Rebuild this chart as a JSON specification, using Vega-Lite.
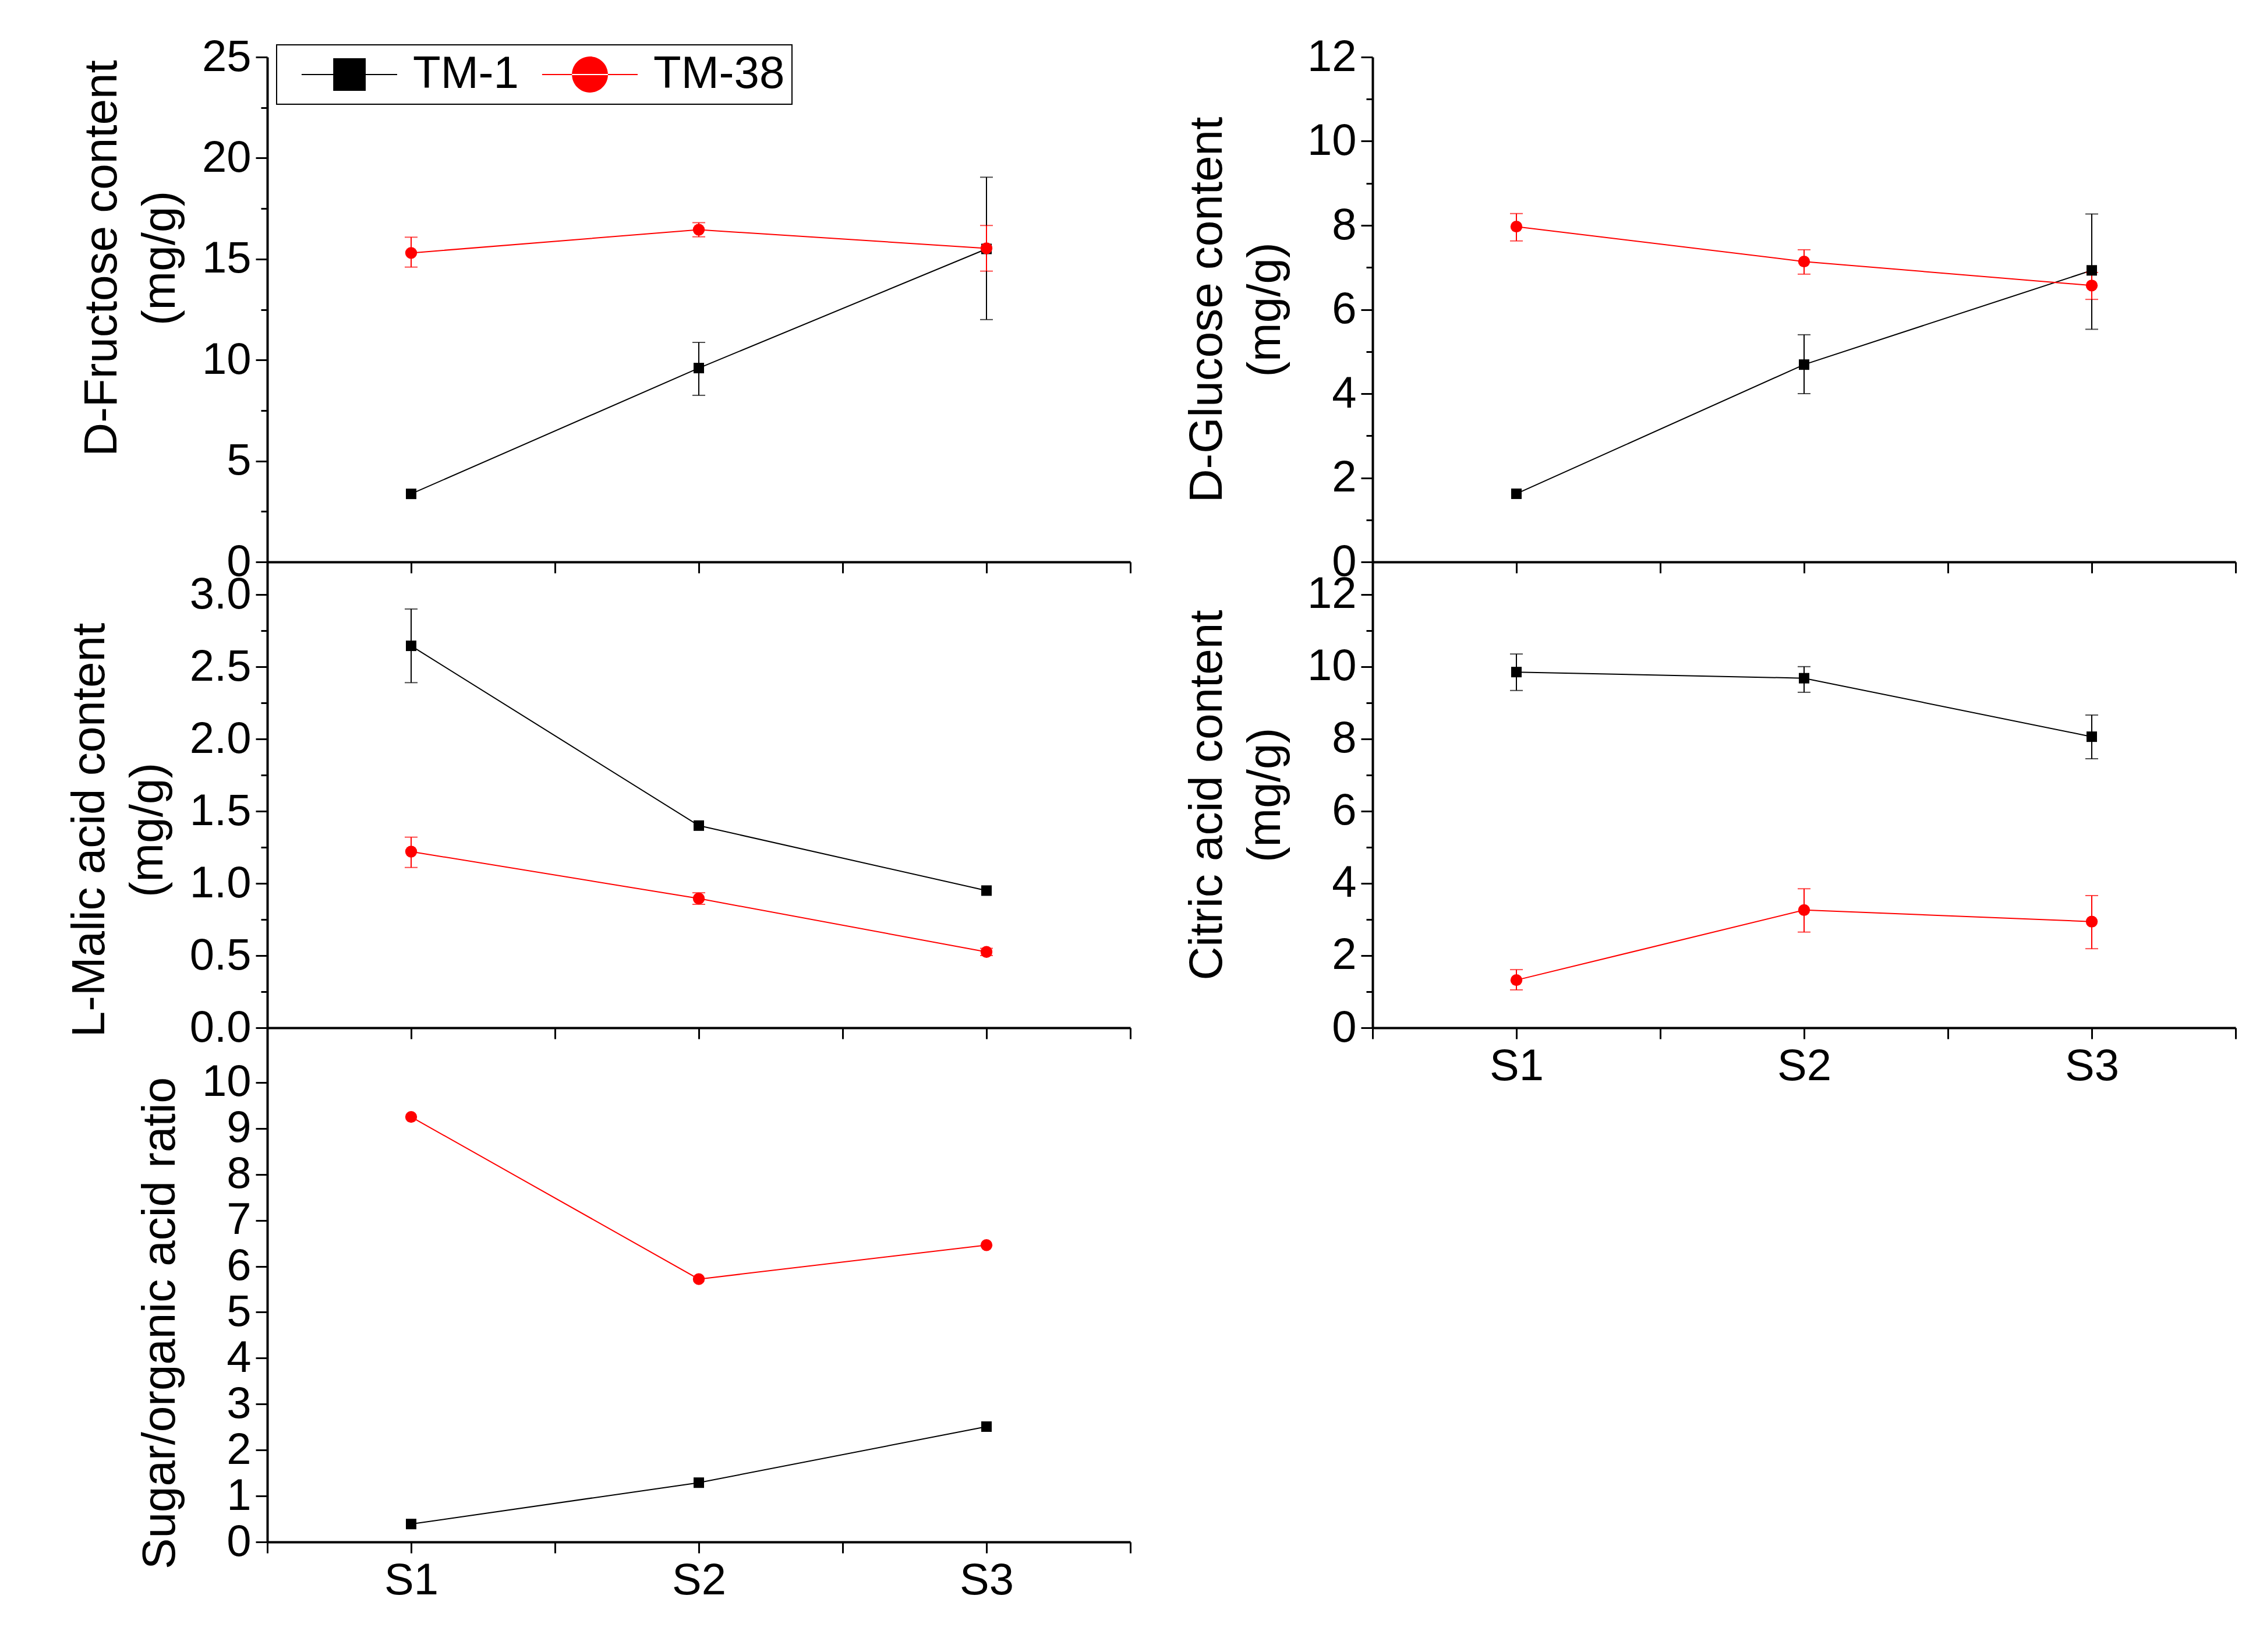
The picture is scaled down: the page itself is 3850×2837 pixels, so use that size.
{
  "$schema": "https://vega.github.io/schema/vega-lite/v6.json",
  "background": "white",
  "padding": {"left": 114, "top": 60, "right": 5, "bottom": 40},
  "config": {
    "font": "Liberation Sans",
    "view": {"stroke": null},
    "axis": {
      "grid": false,
      "domainColor": "black",
      "domainWidth": 4,
      "tickColor": "black",
      "tickWidth": 3,
      "labelColor": "black",
      "labelFont": "Liberation Sans",
      "labelFontSize": 76,
      "labelOverlap": false,
      "labelFlush": false,
      "labelBound": false,
      "titleColor": "black",
      "titleFont": "Liberation Sans",
      "titleFontSize": 80,
      "titleFontWeight": "normal",
      "titleLineHeight": 100
    }
  },
  "datasets": {
    "d": [
      {"panel": "fru", "series": "TM-1", "stage": 1, "value": 3.37},
      {"panel": "fru", "series": "TM-1", "stage": 2, "value": 9.6, "lo": 8.25, "hi": 10.87},
      {"panel": "fru", "series": "TM-1", "stage": 3, "value": 15.5, "lo": 12.0, "hi": 19.05},
      {"panel": "fru", "series": "TM-38", "stage": 1, "value": 15.3, "lo": 14.6, "hi": 16.08},
      {"panel": "fru", "series": "TM-38", "stage": 2, "value": 16.45, "lo": 16.1, "hi": 16.8},
      {"panel": "fru", "series": "TM-38", "stage": 3, "value": 15.53, "lo": 14.4, "hi": 16.66},
      {"panel": "glu", "series": "TM-1", "stage": 1, "value": 1.62},
      {"panel": "glu", "series": "TM-1", "stage": 2, "value": 4.69, "lo": 4.0, "hi": 5.4},
      {"panel": "glu", "series": "TM-1", "stage": 3, "value": 6.93, "lo": 5.53, "hi": 8.27},
      {"panel": "glu", "series": "TM-38", "stage": 1, "value": 7.97, "lo": 7.63, "hi": 8.28},
      {"panel": "glu", "series": "TM-38", "stage": 2, "value": 7.14, "lo": 6.84, "hi": 7.42},
      {"panel": "glu", "series": "TM-38", "stage": 3, "value": 6.57, "lo": 6.24, "hi": 6.88},
      {"panel": "mal", "series": "TM-1", "stage": 1, "value": 2.645, "lo": 2.39, "hi": 2.9},
      {"panel": "mal", "series": "TM-1", "stage": 2, "value": 1.4},
      {"panel": "mal", "series": "TM-1", "stage": 3, "value": 0.95},
      {"panel": "mal", "series": "TM-38", "stage": 1, "value": 1.22, "lo": 1.11, "hi": 1.32},
      {"panel": "mal", "series": "TM-38", "stage": 2, "value": 0.895, "lo": 0.855, "hi": 0.935},
      {"panel": "mal", "series": "TM-38", "stage": 3, "value": 0.525, "lo": 0.5, "hi": 0.55},
      {"panel": "cit", "series": "TM-1", "stage": 1, "value": 9.85, "lo": 9.34, "hi": 10.35},
      {"panel": "cit", "series": "TM-1", "stage": 2, "value": 9.68, "lo": 9.29, "hi": 10.0},
      {"panel": "cit", "series": "TM-1", "stage": 3, "value": 8.06, "lo": 7.45, "hi": 8.66},
      {"panel": "cit", "series": "TM-38", "stage": 1, "value": 1.32, "lo": 1.05, "hi": 1.61},
      {"panel": "cit", "series": "TM-38", "stage": 2, "value": 3.26, "lo": 2.65, "hi": 3.85},
      {"panel": "cit", "series": "TM-38", "stage": 3, "value": 2.94, "lo": 2.19, "hi": 3.66},
      {"panel": "ratio", "series": "TM-1", "stage": 1, "value": 0.39},
      {"panel": "ratio", "series": "TM-1", "stage": 2, "value": 1.29},
      {"panel": "ratio", "series": "TM-1", "stage": 3, "value": 2.51},
      {"panel": "ratio", "series": "TM-38", "stage": 1, "value": 9.25},
      {"panel": "ratio", "series": "TM-38", "stage": 2, "value": 5.72},
      {"panel": "ratio", "series": "TM-38", "stage": 3, "value": 6.46}
    ]
  },
  "columns": 2,
  "spacing": {"row": 0, "column": 416},
  "bounds": "flush",
  "concat": [
    {
      "width": 1482,
      "height": 867,
      "data": {"name": "d"},
      "transform": [{"filter": "datum.panel === 'fru'"}],
      "encoding": {
        "x": {"field": "stage", "type": "quantitative", "scale": {"domain": [0.5, 3.5], "nice": false},
          "axis": {"title": null, "values": [0.5, 1, 1.5, 2, 2.5, 3, 3.5], "labels": false, "tickSize": 19}},
        "y": {"field": "value", "type": "quantitative", "scale": {"domain": [0, 25], "nice": false},
          "axis": {"title": ["D-Fructose content", "(mg/g)"], "titlePadding": 30, "titleY": 345, "labelPadding": 8,
            "values": [0, 2.5, 5, 7.5, 10, 12.5, 15, 17.5, 20, 22.5, 25],
            "labelExpr": "datum.value % 5 === 0 ? datum.label : ''",
            "tickSize": {"condition": {"test": "datum.value % 5 === 0", "value": 20}, "value": 11}}},
        "color": {"field": "series", "type": "nominal", "scale": {"domain": ["TM-1", "TM-38"], "range": ["#000000", "#ff0000"]},
          "legend": {
            "title": null, "orient": "none", "legendX": 16, "legendY": -21, "direction": "horizontal",
            "strokeColor": "black", "padding": 12, "symbolSize": 3600, "labelOffset": 144, "columnPadding": 9,
            "labelFontSize": 78, "labelFont": "Liberation Sans", "labelColor": "black", "labelLimit": 0,
            "encode": {
              "legend": {"update": {"strokeWidth": {"value": 2}}},
              "symbols": {"update": {
                "shape": {"signal": "datum.value === 'TM-1' ? 'M-0.27,-0.035H5.2V0.035H-0.27Z M1.54,-0.93H3.4V0.93H1.54Z' : 'M-0.27,-0.035H5.2V0.035H-0.27Z M1.44,0A1.03,1.03 0 1,0 3.5,0A1.03,1.03 0 1,0 1.44,0Z'"},
                "size": {"value": 3600},
                "strokeWidth": {"value": 0},
                "opacity": {"value": 1}
              }}
            }
          }}
      },
      "layer": [
        {"mark": {"type": "line", "strokeWidth": 2}},
        {"transform": [{"filter": "isValid(datum.lo)"}],
          "mark": {"type": "errorbar", "orient": "vertical", "thickness": 2, "ticks": {"size": 22}},
          "encoding": {"y": {"field": "lo", "type": "quantitative"}, "y2": {"field": "hi"}}},
        {"mark": {"type": "point", "filled": true, "opacity": 1},
          "encoding": {
            "shape": {"field": "series", "type": "nominal", "scale": {"range": ["square", "circle"]}, "legend": null},
            "size": {"field": "series", "type": "nominal", "scale": {"range": [324, 415]}, "legend": null}}}
      ]
    },
    {
      "width": 1482,
      "height": 867,
      "data": {"name": "d"},
      "transform": [{"filter": "datum.panel === 'glu'"}],
      "encoding": {
        "x": {"field": "stage", "type": "quantitative", "scale": {"domain": [0.5, 3.5], "nice": false},
          "axis": {"title": null, "values": [0.5, 1, 1.5, 2, 2.5, 3, 3.5], "labels": false, "tickSize": 19}},
        "y": {"field": "value", "type": "quantitative", "scale": {"domain": [0, 12], "nice": false},
          "axis": {"title": ["D-Glucose content", "(mg/g)"], "titlePadding": 30, "labelPadding": 8,
            "values": [0, 1, 2, 3, 4, 5, 6, 7, 8, 9, 10, 11, 12],
            "labelExpr": "datum.value % 2 === 0 ? datum.label : ''",
            "tickSize": {"condition": {"test": "datum.value % 2 === 0", "value": 20}, "value": 11}}},
        "color": {"field": "series", "type": "nominal", "scale": {"domain": ["TM-1", "TM-38"], "range": ["#000000", "#ff0000"]}, "legend": null}
      },
      "layer": [
        {"mark": {"type": "line", "strokeWidth": 2}},
        {"transform": [{"filter": "isValid(datum.lo)"}],
          "mark": {"type": "errorbar", "orient": "vertical", "thickness": 2, "ticks": {"size": 22}},
          "encoding": {"y": {"field": "lo", "type": "quantitative"}, "y2": {"field": "hi"}}},
        {"mark": {"type": "point", "filled": true, "opacity": 1},
          "encoding": {
            "shape": {"field": "series", "type": "nominal", "scale": {"range": ["square", "circle"]}, "legend": null},
            "size": {"field": "series", "type": "nominal", "scale": {"range": [324, 415]}, "legend": null}}}
      ]
    },
    {
      "width": 1482,
      "height": 800,
      "data": {"name": "d"},
      "transform": [{"filter": "datum.panel === 'mal'"}],
      "encoding": {
        "x": {"field": "stage", "type": "quantitative", "scale": {"domain": [0.5, 3.5], "nice": false},
          "axis": {"title": null, "values": [0.5, 1, 1.5, 2, 2.5, 3, 3.5], "labels": false, "tickSize": 19}},
        "y": {"field": "value", "type": "quantitative", "scale": {"domain": [0, 3.226], "nice": false},
          "axis": {"title": ["L-Malic acid content", "(mg/g)"], "titlePadding": 30, "titleY": 460, "labelPadding": 8, "format": ".1f",
            "values": [0, 0.25, 0.5, 0.75, 1, 1.25, 1.5, 1.75, 2, 2.25, 2.5, 2.75, 3],
            "labelExpr": "datum.value % 0.5 === 0 ? datum.label : ''",
            "tickSize": {"condition": {"test": "datum.value % 0.5 === 0", "value": 20}, "value": 11}}},
        "color": {"field": "series", "type": "nominal", "scale": {"domain": ["TM-1", "TM-38"], "range": ["#000000", "#ff0000"]}, "legend": null}
      },
      "layer": [
        {"mark": {"type": "line", "strokeWidth": 2}},
        {"transform": [{"filter": "isValid(datum.lo)"}],
          "mark": {"type": "errorbar", "orient": "vertical", "thickness": 2, "ticks": {"size": 22}},
          "encoding": {"y": {"field": "lo", "type": "quantitative"}, "y2": {"field": "hi"}}},
        {"mark": {"type": "point", "filled": true, "opacity": 1},
          "encoding": {
            "shape": {"field": "series", "type": "nominal", "scale": {"range": ["square", "circle"]}, "legend": null},
            "size": {"field": "series", "type": "nominal", "scale": {"range": [324, 415]}, "legend": null}}}
      ]
    },
    {
      "width": 1482,
      "height": 800,
      "data": {"name": "d"},
      "transform": [{"filter": "datum.panel === 'cit'"}],
      "encoding": {
        "x": {"field": "stage", "type": "quantitative", "scale": {"domain": [0.5, 3.5], "nice": false},
          "axis": {"title": null, "values": [0.5, 1, 1.5, 2, 2.5, 3, 3.5], "tickSize": 19, "labelPadding": 10,
            "labelExpr": "datum.value % 1 === 0 ? 'S' + datum.value : ''"}},
        "y": {"field": "value", "type": "quantitative", "scale": {"domain": [0, 12.9], "nice": false},
          "axis": {"title": ["Citric acid content", "(mg/g)"], "titlePadding": 30, "labelPadding": 8,
            "values": [0, 1, 2, 3, 4, 5, 6, 7, 8, 9, 10, 11, 12],
            "labelExpr": "datum.value % 2 === 0 ? datum.label : ''",
            "tickSize": {"condition": {"test": "datum.value % 2 === 0", "value": 20}, "value": 11}}},
        "color": {"field": "series", "type": "nominal", "scale": {"domain": ["TM-1", "TM-38"], "range": ["#000000", "#ff0000"]}, "legend": null}
      },
      "layer": [
        {"mark": {"type": "line", "strokeWidth": 2}},
        {"transform": [{"filter": "isValid(datum.lo)"}],
          "mark": {"type": "errorbar", "orient": "vertical", "thickness": 2, "ticks": {"size": 22}},
          "encoding": {"y": {"field": "lo", "type": "quantitative"}, "y2": {"field": "hi"}}},
        {"mark": {"type": "point", "filled": true, "opacity": 1},
          "encoding": {
            "shape": {"field": "series", "type": "nominal", "scale": {"range": ["square", "circle"]}, "legend": null},
            "size": {"field": "series", "type": "nominal", "scale": {"range": [324, 415]}, "legend": null}}}
      ]
    },
    {
      "width": 1482,
      "height": 883,
      "data": {"name": "d"},
      "transform": [{"filter": "datum.panel === 'ratio'"}],
      "encoding": {
        "x": {"field": "stage", "type": "quantitative", "scale": {"domain": [0.5, 3.5], "nice": false},
          "axis": {"title": null, "values": [0.5, 1, 1.5, 2, 2.5, 3, 3.5], "tickSize": 19, "labelPadding": 10,
            "labelExpr": "datum.value % 1 === 0 ? 'S' + datum.value : ''"}},
        "y": {"field": "value", "type": "quantitative", "scale": {"domain": [0, 11.19], "nice": false},
          "axis": {"title": "Sugar/organic acid ratio", "titlePadding": 30, "titleY": 507, "labelPadding": 8, "format": "d",
            "values": [0, 0.5, 1, 1.5, 2, 2.5, 3, 3.5, 4, 4.5, 5, 5.5, 6, 6.5, 7, 7.5, 8, 8.5, 9, 9.5, 10, 10.5],
            "labelExpr": "datum.value % 1 === 0 ? datum.label : ''",
            "tickSize": {"condition": {"test": "datum.value % 1 === 0", "value": 20}, "value": 11}}},
        "color": {"field": "series", "type": "nominal", "scale": {"domain": ["TM-1", "TM-38"], "range": ["#000000", "#ff0000"]}, "legend": null}
      },
      "layer": [
        {"mark": {"type": "line", "strokeWidth": 2}},
        {"mark": {"type": "point", "filled": true, "opacity": 1},
          "encoding": {
            "shape": {"field": "series", "type": "nominal", "scale": {"range": ["square", "circle"]}, "legend": null},
            "size": {"field": "series", "type": "nominal", "scale": {"range": [324, 415]}, "legend": null}}}
      ]
    }
  ]
}
